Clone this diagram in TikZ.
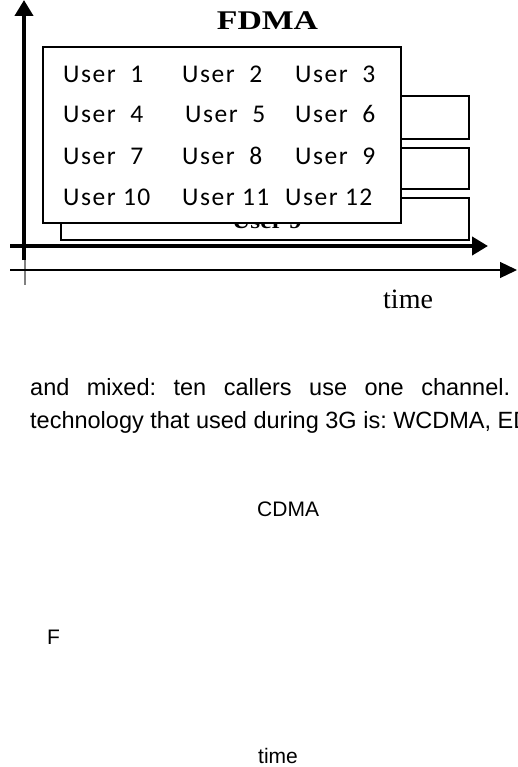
\documentclass[tikz,border=0pt]{standalone}
\usepackage{fontspec}
\setmainfont{Liberation Serif}
\newfontfamily\usrfont[LetterSpace=6]{Carlito}
\newfontfamily\txtfont{Liberation Sans}
\usetikzlibrary{arrows.meta}
\frenchspacing
\tikzset{
  axis/.style={line width=4pt,-{Triangle[length=16pt,width=18pt]}},
  band/.style={draw,line width=1.8pt,inner sep=0pt,outer sep=0pt,anchor=north west},
  usr/.style={anchor=base west,inner sep=0pt,font=\usrfont\fontsize{25.5}{25.5}\selectfont},
  txt/.style={anchor=base west,inner sep=0pt,font=\txtfont\fontsize{21}{21}\selectfont},
  para/.style={anchor=base west,inner sep=0pt,font=\txtfont\fontsize{23.5}{23.5}\selectfont}
}

\begin{document}
\begin{tikzpicture}[x=1pt,y=-1pt]
  \useasboundingbox (0,0) rectangle (517,767);
  \begin{scope}
    \node[anchor=base,inner sep=0pt,font=\bfseries\fontsize{27}{27}\selectfont] (title) at (267.5,30) {\scalebox{1.25}[1]{FDMA}};
    \foreach \t/\h [count=\i] in {96/43,148/41,198/42}
      \node[band,minimum width=408pt,minimum height=\h pt] (band\i) at (61,\t) {};
    \node[anchor=base,inner sep=0pt,font=\bfseries\fontsize{22}{22}\selectfont] (hid) at (267,229) {\scalebox{1.15}[1]{User 9}};
    \node[band,fill=white,minimum width=358pt,minimum height=176pt] (front) at (43,47) {};
    \foreach \px/\py/\lbl [count=\n] in {63/83/User~~1,182/83/User~~2,295/83/User~~3,
        63/123/User~~4,185/123/User~~5,295/123/User~~6,
        63/165/User~~7,182/165/User~~8,295/165/User~~9,
        63/206/User 10,182/206/User 11,285/206/User 12}
      \node[usr] (u\n) at (\px,\py) {\lbl};
    \coordinate (ybot) at (24,260);
    \coordinate (ytop) at (24,0);
    \coordinate (yend) at (25,285);
    \coordinate (xl) at (10,246);
    \coordinate (xr) at (488,246);
    \coordinate (tl) at (10,270);
    \coordinate (tr) at (517,270);
    \draw[gray,line width=2pt] (ybot -| yend) -- (yend);
    \draw[axis] (ybot) -- (ytop);
    \draw[axis] (xl) -- (xr);
    \draw[line width=1.3pt,-{Triangle[length=17pt,width=16pt]}] (tl) -- (tr);
    \node[anchor=base west,inner sep=0pt,font=\fontsize{28}{28}\selectfont] (tlbl) at (383,308) {time};
  \end{scope}
  \begin{scope}
    \node[para] (line1) at (30,395) {\makebox[480pt][s]{and mixed: ten callers use one channel.}};
    \node[para] (line2) at (30,428) {technology that used during 3G is: WCDMA, ED};
    \node[txt] (cdma) at (257,516) {CDMA};
    \node[txt] (f) at (47,644) {F};
    \node[txt] (time) at (258,763) {time};
  \end{scope}
\end{tikzpicture}
\end{document}
